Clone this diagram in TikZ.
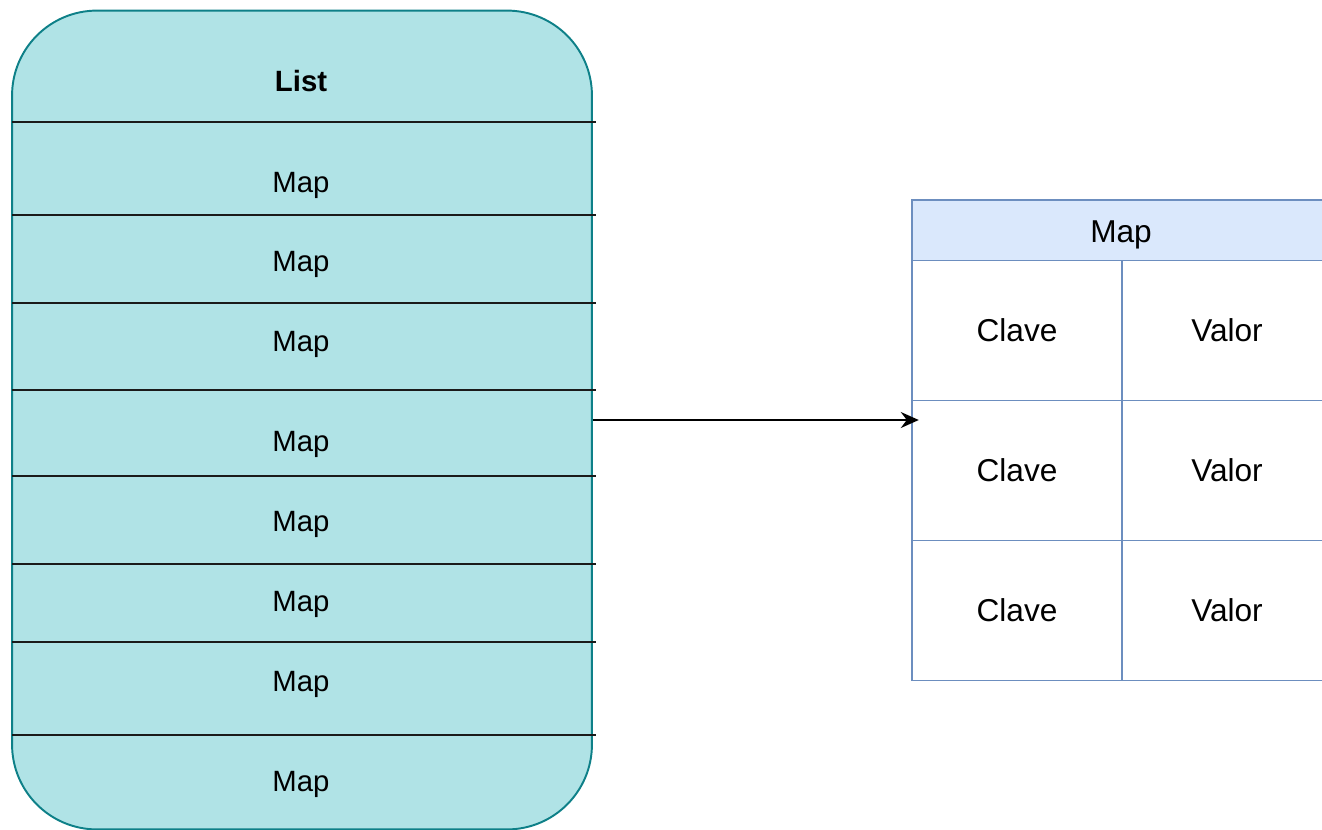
\documentclass[tikz,border=0pt]{standalone}
\usepackage{fontspec}
\setmainfont{Liberation Sans}
\usetikzlibrary{arrows.meta,positioning,backgrounds}
\definecolor{ListFill}{HTML}{B0E3E6}
\definecolor{ListLine}{HTML}{0E8088}
\definecolor{MapFill}{HTML}{DAE8FC}
\definecolor{MapLine}{HTML}{6C8EBF}
\definecolor{Ink}{HTML}{1A1A1A}
\newcommand{\listfont}{\fontsize{16.7}{20}\selectfont}
\newcommand{\mapfont}{\fontsize{18}{22}\selectfont}

\begin{document}
\begin{tikzpicture}[x=0.02cm,y=-0.02cm,
  listbox/.style={rounded corners=1.7cm,draw=ListLine,fill=ListFill,line width=1.1pt,minimum width=11.6cm,minimum height=16.38cm},
  sep/.style={draw=Ink,line width=1.2pt},
  entry/.style={font=\listfont,text=black},
  mhead/.style={draw=MapLine,fill=MapFill,line width=1.1pt,minimum width=8.4cm,minimum height=1.22cm,font=\mapfont},
  cell/.style={draw=MapLine,fill=white,line width=1.1pt,minimum width=4.2cm,minimum height=2.8cm,font=\mapfont},
  arrow/.style={-{Stealth[length=3.6mm,width=3.2mm,inset=1.2mm]},line width=1.1pt,draw=black}
]
\useasboundingbox (0,0) rectangle (1322,829);
\clip (0,0) rectangle (1322,829);
% the list
\node[listbox] (list) at (302,420) {};
\draw[sep] (12,122) -- (596,122);
\draw[sep] (12,215) -- (596,215);
\draw[sep] (12,303) -- (596,303);
\draw[sep] (12,390) -- (596,390);
\draw[sep] (12,476) -- (596,476);
\draw[sep] (12,564) -- (596,564);
\draw[sep] (12,642) -- (596,642);
\draw[sep] (12,735) -- (596,735);
\node[entry,font=\listfont\bfseries] (title) at (301,81) {List};
\node[entry] (m1) at (301,185) {Map};
\node[entry] (m2) at (301,264) {Map};
\node[entry] (m3) at (301,344) {Map};
\node[entry] (m4) at (301,444) {Map};
\node[entry] (m5) at (301,524) {Map};
\node[entry] (m6) at (301,604) {Map};
\node[entry] (m7) at (301,684) {Map};
\node[entry] (m8) at (301,784) {Map};
% the map
\node[mhead] (mapHead) at (1122,230.5) {};
\node[font=\mapfont] (mapTitle) at (1121,235) {Map};
\node[cell] (k1) at (1017,330.5) {};
\node[cell] (v1) at (1227,330.5) {};
\node[cell] (k2) at (1017,470.5) {};
\node[cell] (v2) at (1227,470.5) {};
\node[cell] (k3) at (1017,610.5) {};
\node[cell] (v3) at (1227,610.5) {};
\node[font=\mapfont] (kt1) at (k1) {Clave};
\node[font=\mapfont] (vt1) at (v1) {Valor};
\node[font=\mapfont] (kt2) at (k2) {Clave};
\node[font=\mapfont] (vt2) at (v2) {Valor};
\node[font=\mapfont] (kt3) at (k3) {Clave};
\node[font=\mapfont] (vt3) at (v3) {Valor};
\draw[arrow,shorten >=-4\pgflinewidth] (list.east) -- (list.east -| k2.west);
\end{tikzpicture}
\end{document}
